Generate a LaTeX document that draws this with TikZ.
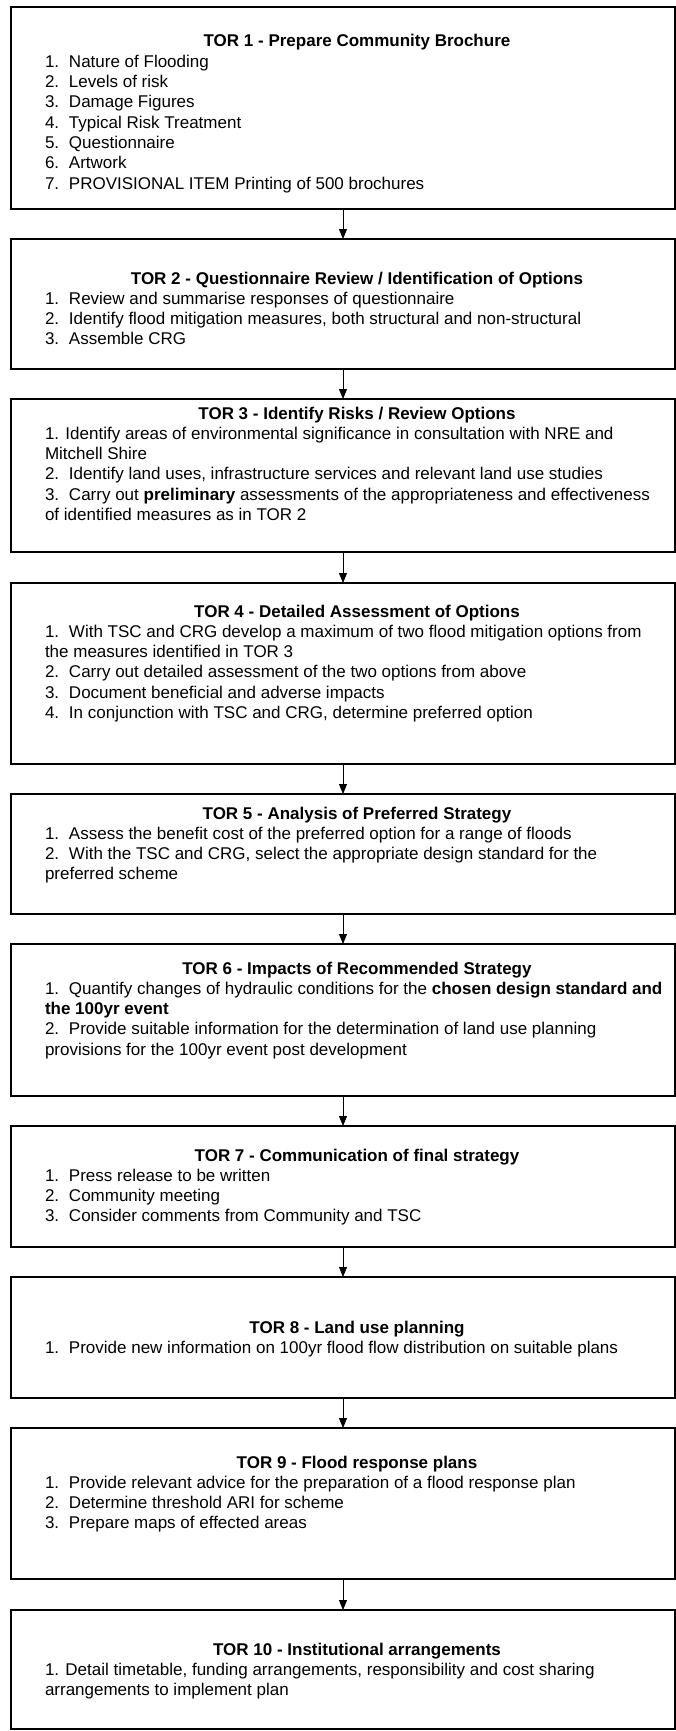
\documentclass[tikz,border=0pt]{standalone}
\usepackage{fontspec}
\setmainfont{Liberation Sans}
\usetikzlibrary{arrows.meta}
\newcommand{\itm}[1]{\makebox[24pt][l]{#1}}
\tikzset{
  tbox/.style={draw=black, line width=1.2pt, rectangle, anchor=north west, minimum width=664pt, inner sep=0pt, outer sep=0pt},
  txt/.style={anchor=base west, inner sep=0pt, outer sep=0pt, font=\fontsize{17}{20.3}\selectfont},
  arr/.style={-{Triangle[length=10pt,width=8pt]}, line width=0.8pt}
}
\begin{document}
\begin{tikzpicture}[x=1pt,y=-1pt]
\useasboundingbox (0,0) rectangle (676,1731);
\fill[white] (0,0) rectangle (676,1731);
\node[tbox, minimum height=202pt] (b1) at (11,7) {};
\node[tbox, minimum height=130pt] (b2) at (11,239) {};
\node[tbox, minimum height=153pt] (b3) at (11,399) {};
\node[tbox, minimum height=181pt] (b4) at (11,583) {};
\node[tbox, minimum height=120pt] (b5) at (11,794) {};
\node[tbox, minimum height=152pt] (b6) at (11,944) {};
\node[tbox, minimum height=121pt] (b7) at (11,1126) {};
\node[tbox, minimum height=121pt] (b8) at (11,1277) {};
\node[tbox, minimum height=151pt] (b9) at (11,1428) {};
\node[tbox, minimum height=119pt] (b10) at (11,1610) {};

\node[txt] (t1) at (45,47) {\parbox[t]{624pt}{\centering\textbf{TOR 1 - Prepare Community Brochure}\par\raggedright
\itm{1.}Nature of Flooding\\
\itm{2.}Levels of risk\\
\itm{3.}Damage Figures\\
\itm{4.}Typical Risk Treatment\\
\itm{5.}Questionnaire\\
\itm{6.}Artwork\\
\itm{7.}PROVISIONAL ITEM Printing of 500 brochures}};

\node[txt] (t2) at (45,284) {\parbox[t]{624pt}{\centering\textbf{TOR 2 - Questionnaire Review / Identification of Options}\par\raggedright
\itm{1.}Review and summarise responses of questionnaire\\
\itm{2.}Identify flood mitigation measures, both structural and non-structural\\
\itm{3.}Assemble CRG}};

\node[txt] (t3) at (45,419) {\parbox[t]{624pt}{\centering\textbf{TOR 3 - Identify Risks / Review Options}\par\raggedright
1. Identify areas of environmental significance in consultation with NRE and\\
Mitchell Shire\\
\itm{2.}Identify land uses, infrastructure services and relevant land use studies\\
\itm{3.}Carry out \textbf{preliminary} assessments of the appropriateness and effectiveness\\
of identified measures as in TOR 2}};

\node[txt] (t4) at (45,617) {\parbox[t]{624pt}{\centering\textbf{TOR 4 - Detailed Assessment of Options}\par\raggedright
\itm{1.}With TSC and CRG develop a maximum of two flood mitigation options from\\
the measures identified in TOR 3\\
\itm{2.}Carry out detailed assessment of the two options from above\\
\itm{3.}Document beneficial and adverse impacts\\
\itm{4.}In conjunction with TSC and CRG, determine preferred option}};

\node[txt] (t5) at (45,819) {\parbox[t]{624pt}{\centering\textbf{TOR 5 - Analysis of Preferred Strategy}\par\raggedright
\itm{1.}Assess the benefit cost of the preferred option for a range of floods\\
\itm{2.}With the TSC and CRG, select the appropriate design standard for the\\
preferred scheme}};

\node[txt] (t6) at (45,974) {\parbox[t]{640pt}{\makebox[624pt][c]{\textbf{TOR 6 - Impacts of Recommended Strategy}}\par\raggedright
\itm{1.}Quantify changes of hydraulic conditions for the \textbf{chosen design standard and}\\
\textbf{the 100yr event}\\
\itm{2.}Provide suitable information for the determination of land use planning\\
provisions for the 100yr event post development}};

\node[txt] (t7) at (45,1161) {\parbox[t]{624pt}{\centering\textbf{TOR 7 - Communication of final strategy}\par\raggedright
\itm{1.}Press release to be written\\
\itm{2.}Community meeting\\
\itm{3.}Consider comments from Community and TSC}};

\node[txt] (t8) at (45,1333) {\parbox[t]{624pt}{\centering\textbf{TOR 8 - Land use planning}\par\raggedright
\itm{1.}Provide new information on 100yr flood flow distribution on suitable plans}};

\node[txt] (t9) at (45,1468) {\parbox[t]{624pt}{\centering\textbf{TOR 9 - Flood response plans}\par\raggedright
\itm{1.}Provide relevant advice for the preparation of a flood response plan\\
\itm{2.}Determine threshold ARI for scheme\\
\itm{3.}Prepare maps of effected areas}};

\node[txt] (t10) at (45,1655) {\parbox[t]{624pt}{\centering\textbf{TOR 10 - Institutional arrangements}\par\raggedright
1. Detail timetable, funding arrangements, responsibility and cost sharing\\
arrangements to implement plan}};

\draw[arr] (b1.south) -- (b2.north);
\draw[arr] (b2.south) -- (b3.north);
\draw[arr] (b3.south) -- (b4.north);
\draw[arr] (b4.south) -- (b5.north);
\draw[arr] (b5.south) -- (b6.north);
\draw[arr] (b6.south) -- (b7.north);
\draw[arr] (b7.south) -- (b8.north);
\draw[arr] (b8.south) -- (b9.north);
\draw[arr] (b9.south) -- (b10.north);
\end{tikzpicture}
\end{document}
